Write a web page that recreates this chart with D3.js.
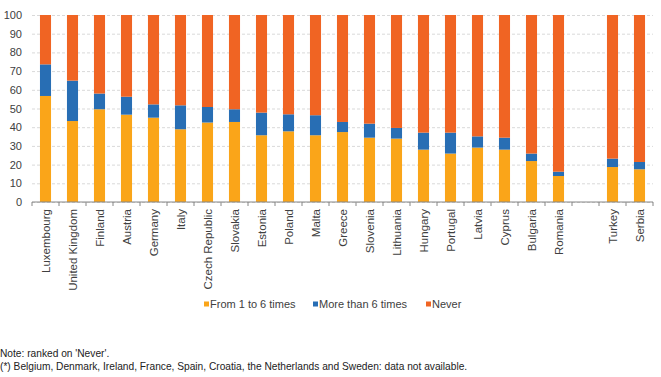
<!DOCTYPE html>
<html lang="en">
  <head>
    <meta charset="UTF-8" />
    <title>Frequency by country</title>
    <script src="https://d3js.org/d3.v7.min.js"></script>
    <style>
      body {
        margin: 0;
        background: #fff;
        font-family: "Liberation Sans", Arial, sans-serif;
      }
      .gridlines line {
        stroke: #d9d9d9;
        stroke-dasharray: 3, 2;
      }
      .gridlines .domain {
        stroke: none;
      }
      .yaxis .domain,
      .yaxis line {
        stroke: none;
      }
      .yaxis text {
        font-size: 11px;
        fill: #404040;
      }
      .xlabel {
        font-size: 11.5px;
        fill: #404040;
      }
    </style>
  </head>
  <body>
    <svg width="661" height="377" id="chart"></svg>

    <script>
      // categories ("" marks the empty slot before the candidate countries)
      const countries = [
        "Luxembourg", "United Kingdom", "Finland", "Austria", "Germany",
        "Italy", "Czech Republic", "Slovakia", "Estonia", "Poland", "Malta",
        "Greece", "Slovenia", "Lithuania", "Hungary", "Portugal", "Latvia",
        "Cyprus", "Bulgaria", "Romania", "", "Turkey", "Serbia"
      ];

      // % values
      const fromOneToSix = [
        56.7, 43.3, 49.6, 46.7, 45.1, 38.9, 42.5, 42.8, 35.7, 37.8, 35.7,
        37.4, 34.4, 33.9, 28.0, 25.9, 29.1, 28.0, 21.9, 13.9, null, 18.7, 17.5
      ];
      const moreThanSix = [
        16.9, 21.6, 8.4, 9.6, 7.1, 12.8, 8.3, 6.8, 12.1, 9.1, 10.7,
        5.4, 7.5, 5.7, 9.1, 11.2, 6.0, 6.4, 4.0, 2.3, null, 4.5, 3.9
      ];
      const never = [
        26.4, 35.1, 42.0, 43.7, 47.8, 48.3, 49.2, 50.4, 52.2, 53.1, 53.6,
        57.2, 58.1, 60.4, 62.9, 62.9, 64.9, 65.6, 74.1, 83.8, null, 76.8, 78.6
      ];

      const seriesNames = ["From 1 to 6 times", "More than 6 times", "Never"];
      const colors = ["#faa519", "#286eb4", "#f06423"];
      const yTicks = [0, 10, 20, 30, 40, 50, 60, 70, 80, 90, 100];

      const svg = d3.select("#chart");
      const margins = { top: 15, left: 32, right: 8, bottom: 175 };
      const width = +svg.attr("width");
      const height = +svg.attr("height");
      const chartWidth = width - margins.left - margins.right;
      const chartHeight = height - margins.top - margins.bottom;

      // build rows for the stack
      const rows = countries.map((c, i) => ({
        key: c === "" ? "_gap" : c,
        label: c,
        [seriesNames[0]]: fromOneToSix[i] || 0,
        [seriesNames[1]]: moreThanSix[i] || 0,
        [seriesNames[2]]: never[i] || 0,
      }));

      const xScale = d3
        .scaleBand()
        .domain(rows.map((d) => d.key))
        .range([0, chartWidth])
        .padding(0);

      const yScale = d3.scaleLinear().domain([0, 100]).range([chartHeight, 0]);

      const color = d3.scaleOrdinal().domain(seriesNames).range(colors);

      const chartArea = svg
        .append("g")
        .attr("transform", `translate(${margins.left},${margins.top})`);

      // dashed gridlines
      chartArea
        .append("g")
        .attr("class", "gridlines")
        .call(
          d3.axisLeft(yScale).tickValues(yTicks).tickSize(-chartWidth).tickFormat("")
        );

      // y tick labels
      chartArea
        .append("g")
        .attr("class", "yaxis")
        .attr("transform", "translate(-4,0)")
        .call(d3.axisLeft(yScale).tickValues(yTicks).tickSize(0).tickPadding(6));

      // stacked bars
      const stacked = d3.stack().keys(seriesNames)(rows);
      const barWidth = xScale.bandwidth() * 0.41;

      chartArea
        .selectAll(".series")
        .data(stacked)
        .join("g")
        .attr("class", "series")
        .attr("fill", (d) => color(d.key))
        .selectAll("rect")
        .data((d) => d.filter((p) => p.data.key !== "_gap"))
        .join("rect")
        .attr("x", (d) => xScale(d.data.key) + (xScale.bandwidth() - barWidth) / 2)
        .attr("width", barWidth)
        .attr("y", (d) => yScale(d[1]))
        .attr("height", (d) => yScale(d[0]) - yScale(d[1]));

      // x axis line with ticks between categories
      const xAxis = chartArea
        .append("g")
        .attr("transform", `translate(0,${chartHeight})`);

      xAxis
        .append("line")
        .attr("x1", 0)
        .attr("x2", chartWidth)
        .attr("stroke", "#868686");

      const boundaries = rows.map((d) => xScale(d.key)).concat([chartWidth]);
      xAxis
        .selectAll(".tick-mark")
        .data(boundaries)
        .join("line")
        .attr("class", "tick-mark")
        .attr("x1", (d) => d)
        .attr("x2", (d) => d)
        .attr("y1", 0)
        .attr("y2", 4)
        .attr("stroke", "#868686");

      xAxis
        .selectAll(".xlabel")
        .data(rows.filter((d) => d.label !== ""))
        .join("text")
        .attr("class", "xlabel")
        .attr(
          "transform",
          (d) => `translate(${xScale(d.key) + xScale.bandwidth() / 2},7) rotate(-90)`
        )
        .attr("dy", "0.35em")
        .attr("text-anchor", "end")
        .text((d) => d.label);

      // legend
      const legendX = [204, 313, 426];
      const legend = svg
        .selectAll(".legend")
        .data(seriesNames)
        .join("g")
        .attr("class", "legend")
        .attr("transform", (d, i) => `translate(${legendX[i]},304)`);

      legend
        .append("rect")
        .attr("x", 0)
        .attr("y", -2.5)
        .attr("width", 5)
        .attr("height", 5)
        .attr("fill", (d) => color(d));

      legend
        .append("text")
        .attr("x", 6)
        .attr("dy", "0.35em")
        .attr("font-size", 11)
        .attr("fill", "#404040")
        .text((d) => d);

      // notes
      svg
        .append("text")
        .attr("x", 0)
        .attr("y", 357)
        .attr("font-size", 10.2)
        .attr("fill", "#222")
        .text("Note: ranked on 'Never'.");

      svg
        .append("text")
        .attr("x", 0)
        .attr("y", 370)
        .attr("font-size", 10.2)
        .attr("fill", "#222")
        .text(
          "(*) Belgium, Denmark, Ireland, France, Spain, Croatia, the Netherlands and Sweden: data not available."
        );
    </script>
  </body>
</html>
